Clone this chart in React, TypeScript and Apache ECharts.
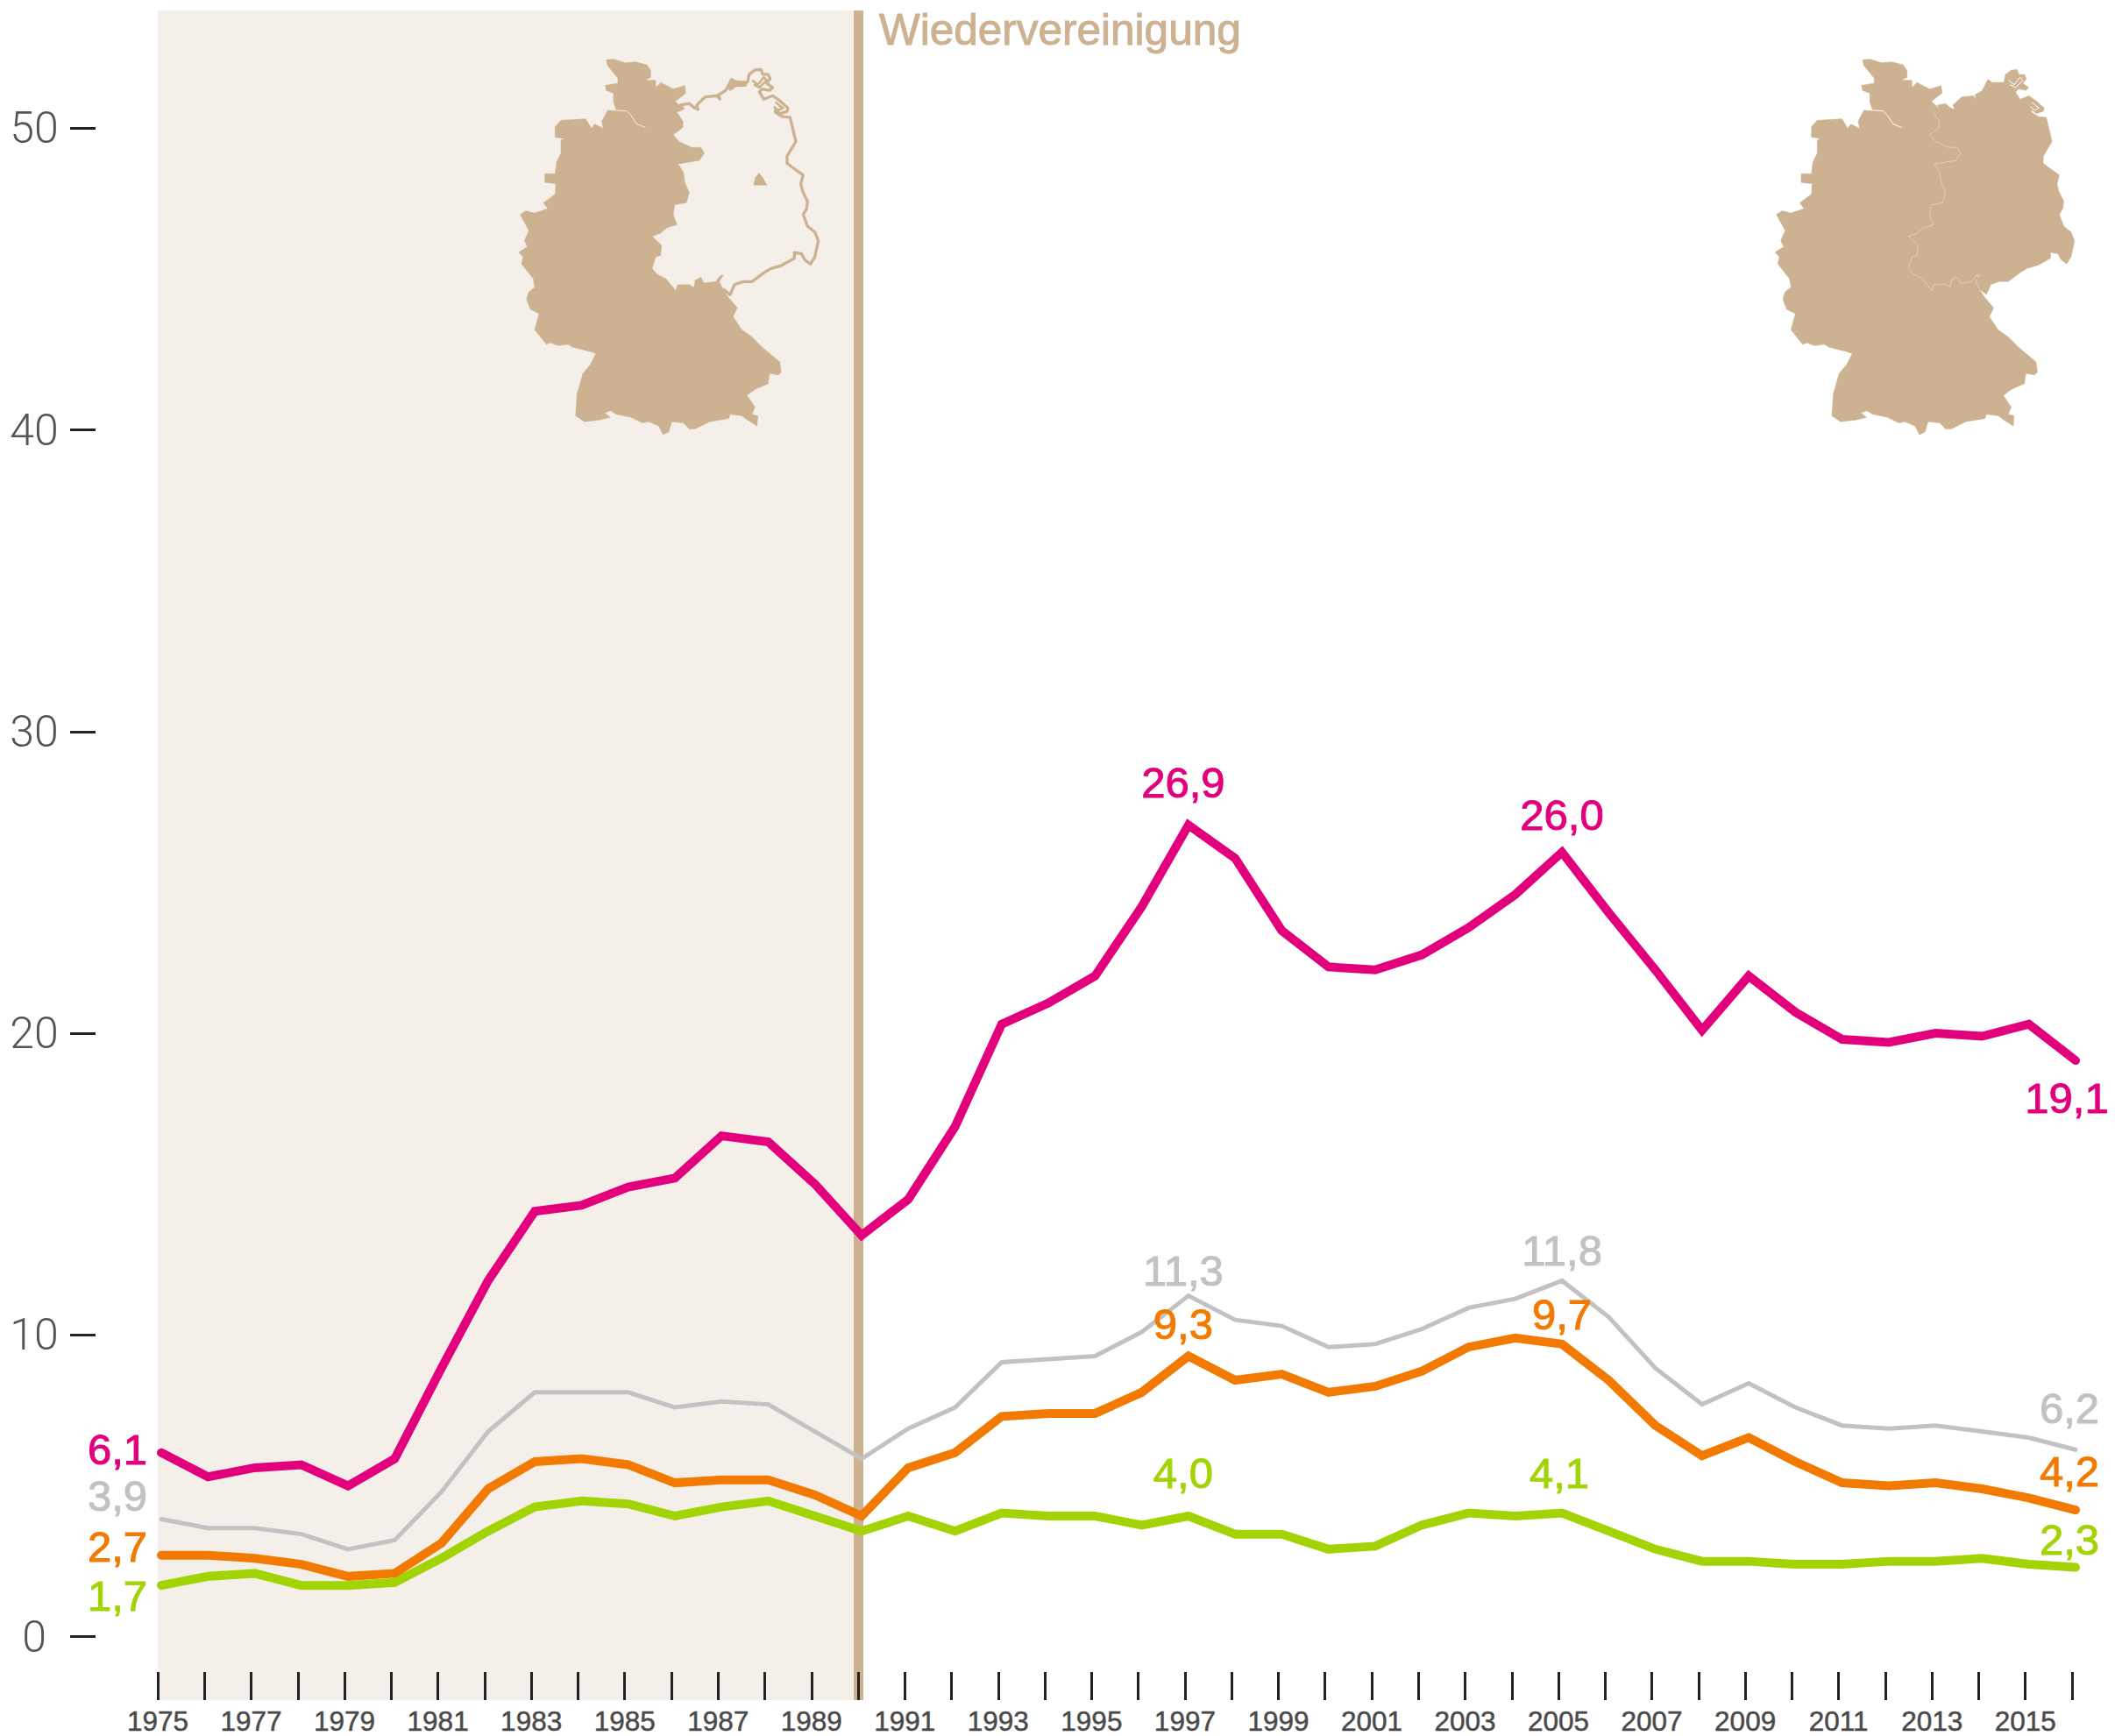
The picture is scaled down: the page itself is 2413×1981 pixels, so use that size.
import React, { useEffect, useRef } from "react";
import * as echarts from "echarts";

const years = [1975,1976,1977,1978,1979,1980,1981,1982,1983,1984,1985,1986,1987,1988,1989,1990,1991,1992,1993,1994,1995,1996,1997,1998,1999,2000,2001,2002,2003,2004,2005,2006,2007,2008,2009,2010,2011,2012,2013,2014,2015,2016];
const magenta = [6.1,5.3,5.6,5.7,5.0,5.9,8.9,11.8,14.1,14.3,14.9,15.2,16.6,16.4,15.0,13.3,14.5,16.9,20.3,21.0,21.9,24.2,26.9,25.8,23.4,22.2,22.1,22.6,23.5,24.6,26.0,24.0,22.1,20.1,21.9,20.7,19.8,19.7,20.0,19.9,20.3,19.1];
const grey = [3.9,3.6,3.6,3.4,2.9,3.2,4.8,6.8,8.1,8.1,8.1,7.6,7.8,7.7,6.8,5.9,6.9,7.6,9.1,9.2,9.3,10.1,11.3,10.5,10.3,9.6,9.7,10.2,10.9,11.2,11.8,10.6,8.9,7.7,8.4,7.6,7.0,6.9,7.0,6.8,6.6,6.2];
const orange = [2.7,2.7,2.6,2.4,2.0,2.1,3.1,4.9,5.8,5.9,5.7,5.1,5.2,5.2,4.7,4.0,5.6,6.1,7.3,7.4,7.4,8.1,9.3,8.5,8.7,8.1,8.3,8.8,9.6,9.9,9.7,8.5,7.0,6.0,6.6,5.8,5.1,5.0,5.1,4.9,4.6,4.2];
const green = [1.7,2.0,2.1,1.7,1.7,1.8,2.6,3.5,4.3,4.5,4.4,4.0,4.3,4.5,4.0,3.5,4.0,3.5,4.1,4.0,4.0,3.7,4.0,3.4,3.4,2.9,3.0,3.7,4.1,4.0,4.1,3.5,2.9,2.5,2.5,2.4,2.4,2.5,2.5,2.6,2.4,2.3];
const yTicks = [0,10,20,30,40,50];
const bandYears = [1975,1990];
const reunification = "Wiedervereinigung";

const C_MAP = "#cdb292";
const C_BAND = "#f4efe9";

// label placement per series and year (pixels from the point to the label's centre)
const magentaLabels: Record<number, number[]> = { 1975: [-50,-4], 1997: [-6,-49], 2005: [0,-43], 2016: [-10,43] };
const greyLabels: Record<number, number[]> = { 1975: [-50,-26], 1997: [-6,-29], 2005: [0,-34], 2016: [-7,-47] };
const orangeLabels: Record<number, number[]> = { 1975: [-50,-10], 1997: [-6,-37], 2005: [0,-34], 2016: [-7,-44] };
const greenLabels: Record<number, number[]> = { 1975: [-50,12], 1997: [-6,-49], 2005: [-3,-46], 2016: [-7,-32] };

// Map outlines
const westNorth = [[395,205],[420,202],[460,215],[495,212],[535,222],[548,242],[548,265],[530,275],[565,275],[565,300],[582,282],[625,305],[665,293],[668,320],[632,347],[660,375]];
const innerBorder = [[638,385],[658,415],[658,437],[625,462],[645,485],[690,505],[720,505],[732,525],[715,550],[685,555],[642,562],[660,590],[665,625],[680,660],[670,695],[630,702],[625,735],[638,770],[605,780],[580,800],[553,810],[585,840],[582,875],[565,880],[553,920],[570,940],[600,955],[633,995],[640,975],[680,975],[695,985],[700,960],[720,950],[730,970],[770,965],[785,945],[797,942],[783,965],[795,990]];
const westSouth = [[815,1020],[845,1055],[830,1085],[860,1130],[895,1155],[930,1190],[960,1215],[990,1240],[995,1275],[985,1285],[955,1280],[950,1315],[905,1335],[878,1355],[905,1395],[895,1420],[915,1425],[912,1460],[880,1440],[860,1425],[820,1420],[815,1435],[750,1445],[700,1470],[680,1470],[660,1450],[620,1445],[610,1480],[590,1490],[575,1460],[540,1445],[520,1450],[480,1430],[430,1420],[410,1408],[390,1415],[410,1430],[370,1440],[320,1445],[290,1425],[295,1350],[315,1280],[340,1250],[360,1212],[340,1205],[280,1190],[265,1180],[230,1185],[205,1175],[190,1180],[150,1130],[165,1075],[135,1060],[122,1025],[130,1000],[150,985],[145,955],[125,930],[105,905],[110,880],[95,865],[125,845],[115,825],[130,790],[100,735],[120,722],[150,730],[195,715],[180,695],[220,665],[222,630],[185,625],[185,595],[220,595],[225,555],[240,525],[240,480],[250,475],[220,470],[220,435],[240,412],[325,407],[345,440],[355,425],[385,440],[380,415],[400,378],[430,380],[420,350],[420,320],[395,310],[392,292],[435,285],[435,268],[400,225]];
const eastOutline = [[660,375],[650,360],[680,355],[695,368],[710,375],[705,360],[735,332],[775,328],[785,340],[780,325],[805,310],[825,272],[840,282],[875,282],[880,280],[885,255],[905,240],[925,238],[932,255],[950,255],[957,270],[945,285],[965,300],[955,310],[930,305],[920,315],[935,340],[965,328],[990,345],[1018,370],[1015,382],[990,390],[975,375],[975,385],[1000,400],[1025,402],[1045,485],[1015,535],[1015,560],[1070,600],[1062,630],[1068,655],[1085,690],[1082,715],[1070,735],[1085,775],[1110,795],[1122,825],[1110,880],[1095,905],[1075,890],[1065,870],[1040,865],[1040,885],[995,910],[960,920],[935,935],[895,965],[865,965],[835,975],[820,1010],[795,990]];
const coastBlob = [[825,272],[880,282],[875,297],[840,297],[820,312],[810,300]];
const berlin = [[918,592],[930,605],[947,635],[900,635],[905,610]];
const elbe = [[430,378],[465,380],[480,395],[500,425],[530,437]];
const rugenCuts = [[895,275],[915,290],[935,265],[945,275],[920,300],[900,290]];
const lagoonCuts = [[975,350],[1000,370],[985,378],[970,365]];

const toD = (pts: number[][], close: boolean) => "M" + pts.map(p => p[0] + " " + p[1]).join("L") + (close ? "Z" : "");
echarts.graphic.registerShape("deWest", echarts.graphic.extendPath(toD([...westNorth, ...innerBorder, ...westSouth], true), {}));
echarts.graphic.registerShape("deEast", echarts.graphic.extendPath(toD([...eastOutline, ...innerBorder.slice().reverse()], true), {}));
echarts.graphic.registerShape("deEastLine", echarts.graphic.extendPath(toD(eastOutline, false), {}));
echarts.graphic.registerShape("deBerlin", echarts.graphic.extendPath(toD(berlin, true), {}));
echarts.graphic.registerShape("deBlob", echarts.graphic.extendPath(toD(coastBlob, true), {}));
echarts.graphic.registerShape("deElbe", echarts.graphic.extendPath(toD(elbe, false), {}));
echarts.graphic.registerShape("deInner", echarts.graphic.extendPath(toD(innerBorder, false), {}));
echarts.graphic.registerShape("deRugen", echarts.graphic.extendPath(toD(rugenCuts, false), {}));
echarts.graphic.registerShape("deLagoon", echarts.graphic.extendPath(toD(lagoonCuts, false), {}));

const Y0 = 1867.7, PX_PER_UNIT = 34.43, GRID_TOP = 12, GRID_BOTTOM = 1940;
const GRID_LEFT = 180, GRID_RIGHT = 2368, DATA_SHIFT_YEARS = 4 / 53.26;
const FONT = "'Liberation Sans', Arial, sans-serif";

function lineSeries(name: string, values: number[], color: string, width: number, labels: Record<number, number[]>, z: number) {
  return {
    name, type: "line", xAxisIndex: 1, yAxisIndex: 0, z,
    showSymbol: true, showAllSymbol: true, symbol: "none", clip: false, silent: true,
    lineStyle: { color, width, cap: "round", join: "miter" },
    data: values.map((v, i) => {
      const off = labels[years[i]];
      const item: any = { value: [years[i], v] };
      if (off) {
        item.symbol = "circle"; item.symbolSize = 1;
        item.itemStyle = { color: "transparent" };
        item.label = {
          show: true, position: "inside", align: "center", verticalAlign: "middle", offset: off,
          formatter: v.toFixed(1).replace(".", ","), color, fontSize: 49, fontFamily: FONT,
          textBorderColor: color, textBorderWidth: 1,
        };
      }
      return item;
    }),
  };
}

function mapGraphics(x: number, full: boolean) {
  const s = 1 / 3;
  const base = { x, y: 0, scaleX: s, scaleY: s, silent: true, z: 5 };
  const els: any[] = [
    { ...base, type: "deWest", style: { fill: C_MAP, stroke: C_MAP, lineWidth: 1 } },
    { ...base, type: "deElbe", style: { fill: "none", stroke: full ? "#ffffff" : C_BAND, lineWidth: 3 } },
  ];
  if (full) {
    els.push({ ...base, type: "deEast", style: { fill: C_MAP, stroke: C_MAP, lineWidth: 1 } });
    els.push({ ...base, type: "deInner", style: { fill: "none", stroke: "#e2d6c6", lineWidth: 2 } });
    els.push({ ...base, type: "deRugen", style: { fill: "none", stroke: "#ffffff", lineWidth: 3 } });
    els.push({ ...base, type: "deLagoon", style: { fill: "none", stroke: "#ffffff", lineWidth: 3 } });
  } else {
    els.push({ ...base, type: "deEastLine", style: { fill: "none", stroke: C_MAP, lineWidth: 10, lineJoin: "round" } });
    els.push({ ...base, type: "deBlob", style: { fill: C_MAP } });
    els.push({ ...base, type: "deRugen", style: { fill: "none", stroke: C_MAP, lineWidth: 8 } });
    els.push({ ...base, type: "deLagoon", style: { fill: "none", stroke: C_MAP, lineWidth: 8 } });
    els.push({ ...base, type: "deBerlin", style: { fill: C_MAP } });
  }
  return els;
}

export default function App() {
  const ref = useRef<HTMLDivElement>(null);
  useEffect(() => {
    document.body.style.margin = "0";
    const chart = echarts.init(ref.current!, undefined, { renderer: "svg" });
    chart.setOption({
      animation: false,
      backgroundColor: "#ffffff",
      grid: { left: GRID_LEFT, top: GRID_TOP, width: GRID_RIGHT - GRID_LEFT, height: GRID_BOTTOM - GRID_TOP, containLabel: false },
      xAxis: [
        {
          type: "value", position: "bottom", min: 1975, max: 2016 + DATA_SHIFT_YEARS, z: 20,
          axisLine: { show: false, onZero: false }, splitLine: { show: false },
          axisTick: { show: true, inside: true, length: 32, customValues: years, lineStyle: { color: "#222222", width: 3 } },
          axisLabel: {
            show: true, customValues: years.filter(y => y % 2 === 1), margin: 8, hideOverlap: false,
            color: "#4a4a4a", fontSize: 31.5, fontFamily: FONT, formatter: (v: number) => String(v),
            textBorderColor: "#4a4a4a", textBorderWidth: 0.5,
          },
        },
        { type: "value", show: false, position: "bottom", min: 1975 - DATA_SHIFT_YEARS, max: 2016, axisLine: { onZero: false }, splitLine: { show: false } },
      ],
      yAxis: [{
        type: "value", position: "left", offset: GRID_LEFT - 109,
        min: (Y0 - GRID_BOTTOM) / PX_PER_UNIT, max: (Y0 - GRID_TOP) / PX_PER_UNIT,
        axisLine: { show: false, onZero: false }, splitLine: { show: false },
        axisTick: { show: true, length: 29, customValues: yTicks, lineStyle: { color: "#222222", width: 3 } },
        axisLabel: {
          show: true, customValues: yTicks, margin: 70, align: "center",
          color: "#555555", fontSize: 50, fontWeight: 300, fontFamily: "Roboto, sans-serif", formatter: (v: number) => String(v),
        },
      }],
      series: [
        {
          name: "band", type: "line", xAxisIndex: 0, yAxisIndex: 0, z: 1, silent: true, showSymbol: false,
          lineStyle: { opacity: 0 }, data: bandYears.map(y => [y, 0]),
          markArea: { silent: true, z: 1, itemStyle: { color: C_BAND }, data: [[{ xAxis: bandYears[0] }, { xAxis: bandYears[1] }]] },
          markLine: {
            silent: true, z: 2, symbol: "none", animation: false, label: { show: false },
            lineStyle: { color: C_MAP, width: 11, type: "solid" }, data: [{ xAxis: bandYears[1] }],
          },
        },
        lineSeries("grey", grey, "#c2c2c2", 5, greyLabels, 10),
        lineSeries("magenta", magenta, "#e2007d", 10, magentaLabels, 11),
        lineSeries("green", green, "#a2d405", 10, greenLabels, 12),
        lineSeries("orange", orange, "#f27a00", 10, orangeLabels, 13),
      ],
      graphic: [
        ...mapGraphics(560, false),
        ...mapGraphics(1993.3, true),
        {
          type: "text", x: 1003, y: 33, silent: true, z: 6,
          style: { text: reunification, fill: C_MAP, stroke: C_MAP, lineWidth: 1, fontSize: 49.5, fontFamily: FONT, verticalAlign: "middle", align: "left" },
        },
      ],
    });
    return () => chart.dispose();
  }, []);
  return <div ref={ref} style={{ width: 2413, height: 1981, position: "absolute", left: 0, top: 0 }} />;
}
